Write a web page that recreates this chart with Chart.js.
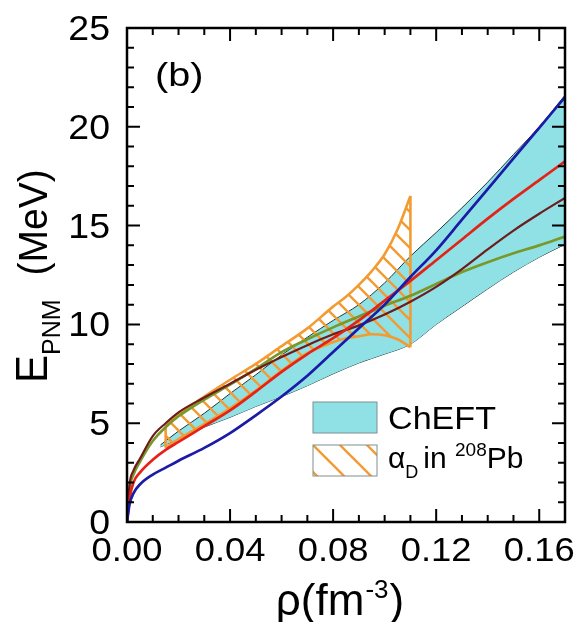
<!DOCTYPE html>
<html>
<head>
<meta charset="utf-8">
<script src="https://cdn.jsdelivr.net/npm/chart.js@4.4.1/dist/chart.umd.min.js"></script>
<style>
  body { margin: 0; background: #fff; }
  #wrap { width: 581px; height: 622px; }
</style>
</head>
<body>
<div id="wrap"><canvas id="chartEpnm"></canvas></div>
<script>
// density grid (fm^-3) for the four EOS curves
const rho = [0, 0.001, 0.0025, 0.005, 0.01, 0.015, 0.02, 0.03, 0.04, 0.05, 0.06, 0.07, 0.08, 0.09, 0.10, 0.11, 0.12, 0.13, 0.14, 0.15, 0.16, 0.17];
const eBlue  = [0, 0.9, 1.45, 1.9, 2.4, 2.75, 3.1, 3.75, 4.5, 5.4, 6.35, 7.4, 8.6, 9.8, 11.0, 12.4, 13.75, 15.3, 16.85, 18.4, 19.95, 21.5];
const eRed   = [0, 1.2, 2.0, 2.5, 3.15, 3.65, 4.05, 4.85, 5.65, 6.6, 7.6, 8.5, 9.3, 10.2, 11.2, 12.2, 13.25, 14.3, 15.35, 16.35, 17.3, 18.25];
const eBrown = [0, 1.9, 2.6, 3.2, 4.35, 5.0, 5.55, 6.3, 7.0, 7.7, 8.35, 8.95, 9.5, 9.95, 10.5, 11.15, 11.9, 12.8, 13.8, 14.75, 15.6, 16.4];
const eGreen = [0, 1.7, 2.4, 3.05, 4.1, 4.8, 5.35, 6.2, 6.95, 7.75, 8.6, 9.25, 9.85, 10.4, 10.95, 11.45, 12.05, 12.65, 13.15, 13.6, 14.0, 14.45];

// ChEFT band
const chRho  = [0.013, 0.02, 0.03, 0.04, 0.05, 0.06, 0.07, 0.08, 0.09, 0.10, 0.11, 0.12, 0.13, 0.14, 0.15, 0.16, 0.17];
const chLow  = [3.8, 4.2, 4.8, 5.3, 5.85, 6.35, 6.9, 7.5, 8.05, 8.5, 9.0, 10.0, 10.9, 11.8, 12.65, 13.4, 14.05];
const chHigh = [3.9, 4.6, 5.5, 6.5, 7.45, 8.45, 9.35, 10.2, 11.0, 12.1, 13.45, 14.65, 15.9, 17.2, 18.6, 20.0, 21.6];

// alpha_D in 208Pb constraint
const aRho  = [0.015, 0.02, 0.03, 0.04, 0.05, 0.06, 0.07, 0.08, 0.085, 0.09, 0.095, 0.10, 0.105, 0.11];
const aHigh = [4.85, 5.45, 6.35, 7.2, 8.0, 8.9, 9.8, 10.9, 11.4, 12.0, 12.7, 13.55, 14.8, 16.5];
const aLow  = [3.75, 4.2, 4.95, 5.75, 6.65, 7.65, 8.55, 9.1, 9.3, 9.4, 9.5, 9.45, 9.25, 8.85];

const xTicks = [0, 0.04, 0.08, 0.12, 0.16];
const xTickLabels = ['0.00', '0.04', '0.08', '0.12', '0.16'];
const yTicks = [0, 5, 10, 15, 20, 25];
const yTickLabels = ['0', '5', '10', '15', '20', '25'];

const FONT = "'Liberation Sans', Arial, sans-serif";
const CYAN = '#8fe1e6';
const ORANGE = '#f39b32';
const SX = 1.07; // text is set a little wide

const pts = (xs, ys) => xs.map((v, i) => ({ x: v, y: ys[i] }));

function hatch(size, width) {
  const c = document.createElement('canvas');
  c.width = size; c.height = size;
  const g = c.getContext('2d');
  g.strokeStyle = ORANGE;
  g.lineWidth = width;
  for (let k = -1; k <= 1; k++) {
    g.beginPath();
    g.moveTo(-1, -1 + k * size);
    g.lineTo(size + 1, size + 1 + k * size);
    g.stroke();
  }
  return g.createPattern(c, 'repeat');
}

const plotHatch = hatch(18, 2.4);
const legendHatch = hatch(27, 2.4);

function curve(label, ys, color, width, order) {
  return {
    label, data: pts(rho, ys), borderColor: color, borderWidth: width,
    pointRadius: 0, fill: false, cubicInterpolationMode: 'monotone', order
  };
}

// draws text squeezed/stretched horizontally, returns drawn width
function wideText(ctx, str, x, y, size, sx, align) {
  ctx.save();
  ctx.font = size + 'px ' + FONT;
  ctx.textAlign = align || 'left';
  ctx.translate(x, y);
  ctx.scale(sx, 1);
  ctx.fillText(str, 0, 0);
  const w = ctx.measureText(str).width * sx;
  ctx.restore();
  return w;
}

// frame with inward ticks, tick labels, panel tag, axis titles and legend
const decorations = {
  id: 'decorations',
  afterDraw(chart) {
    const { ctx, chartArea: a, scales: { x, y } } = chart;
    ctx.save();
    ctx.strokeStyle = '#000';
    ctx.lineWidth = 2;
    ctx.beginPath();
    for (let i = 0; i <= 17; i++) {
      const px = x.getPixelForValue(i * 0.01);
      const len = i % 4 === 0 ? 13 : 7;
      ctx.moveTo(px, a.bottom); ctx.lineTo(px, a.bottom - len);
      ctx.moveTo(px, a.top); ctx.lineTo(px, a.top + len);
    }
    for (let j = 0; j <= 25; j++) {
      const py = y.getPixelForValue(j);
      const len = j % 5 === 0 ? 13 : 7;
      ctx.moveTo(a.left, py); ctx.lineTo(a.left + len, py);
      ctx.moveTo(a.right, py); ctx.lineTo(a.right - len, py);
    }
    ctx.stroke();
    ctx.lineWidth = 2.5;
    ctx.strokeRect(a.left, a.top, a.right - a.left, a.bottom - a.top);

    ctx.fillStyle = '#000';
    ctx.textBaseline = 'alphabetic';

    xTicks.forEach((v, i) => wideText(ctx, xTickLabels[i], x.getPixelForValue(v), a.bottom + 39, 34, SX, 'center'));
    yTicks.forEach((v, i) => wideText(ctx, yTickLabels[i], a.left - 17, y.getPixelForValue(v) + 12, 35, SX, 'right'));

    // panel tag
    wideText(ctx, '(b)', 155, 86, 33, 1.2);

    // y title: E_PNM (MeV)
    ctx.save();
    ctx.translate(47, 383);
    ctx.rotate(-Math.PI / 2);
    ctx.scale(1, 1.05);
    ctx.textAlign = 'left';
    ctx.font = '42px ' + FONT;
    ctx.fillText('E', 0, 0);
    const wE = ctx.measureText('E').width;
    ctx.font = '25px ' + FONT;
    ctx.fillText('PNM', wE, 12);
    const wSub = ctx.measureText('PNM').width;
    ctx.font = '39px ' + FONT;
    ctx.fillText('(MeV)', wE + wSub + 24, 0);
    ctx.restore();

    // x title: rho(fm^-3)
    ctx.textAlign = 'left';
    ctx.font = '44px ' + FONT;
    const w1 = ctx.measureText('\u03c1(fm').width;
    const w3 = ctx.measureText(')').width;
    ctx.font = '26px ' + FONT;
    const w2 = ctx.measureText('-3').width;
    const tx = 339 - (w1 + w2 + w3) / 2;
    const ty = 615;
    ctx.font = '44px ' + FONT;
    ctx.fillText('\u03c1(fm', tx, ty);
    ctx.font = '26px ' + FONT;
    ctx.fillText('-3', tx + w1 + 1, ty - 17);
    ctx.font = '44px ' + FONT;
    ctx.fillText(')', tx + w1 + w2 + 2, ty);

    // legend
    const bx = 313, bw = 64, bh = 31;
    ctx.fillStyle = CYAN;
    ctx.fillRect(bx, 402, bw, bh);
    ctx.strokeStyle = '#7f8f90';
    ctx.lineWidth = 1;
    ctx.strokeRect(bx, 402, bw, bh);
    ctx.save();
    ctx.beginPath();
    ctx.rect(bx, 445, bw, bh);
    ctx.clip();
    ctx.translate(bx, 445);
    ctx.fillStyle = legendHatch;
    ctx.fillRect(0, 0, bw, bh);
    ctx.restore();
    ctx.strokeRect(bx, 445, bw, bh);

    ctx.fillStyle = '#000';
    wideText(ctx, 'ChEFT', 388, 429, 31, 1.1);
    let lx = 388;
    lx += wideText(ctx, '\u03b1', lx, 468, 30, 1.0);
    lx += wideText(ctx, 'D', lx, 478, 18, 1.0) + 5;
    lx += wideText(ctx, 'in ', lx, 468, 30, 1.0);
    lx += wideText(ctx, '208', lx, 456, 19, 1.0);
    wideText(ctx, 'Pb', lx, 468, 30, 1.0);
    ctx.restore();
  }
};

const zeroPad = s => { s.paddingLeft = s.paddingRight = s.paddingTop = s.paddingBottom = 0; };

new Chart(document.getElementById('chartEpnm'), {
  type: 'line',
  data: {
    datasets: [
      curve('blue', eBlue, '#1b1ba6', 2.7, 1),
      curve('red', eRed, '#e52218', 2.7, 2),
      curve('brown', eBrown, '#6e1c1c', 2.2, 3),
      curve('green', eGreen, '#78982a', 2.7, 4),
      { label: 'aLeft', data: [{ x: aRho[0], y: aLow[0] }, { x: aRho[0], y: aHigh[0] }],
        borderColor: ORANGE, borderWidth: 2.6, pointRadius: 0, fill: false, order: 5 },
      { label: 'aRight', data: [{ x: aRho[aRho.length - 1], y: aLow[aLow.length - 1] }, { x: aRho[aRho.length - 1], y: aHigh[aHigh.length - 1] }],
        borderColor: ORANGE, borderWidth: 2.6, pointRadius: 0, fill: false, order: 5 },
      { label: 'aHigh', data: pts(aRho, aHigh), borderColor: ORANGE, borderWidth: 2.6,
        backgroundColor: plotHatch, fill: 7, pointRadius: 0, cubicInterpolationMode: 'monotone', order: 6 },
      { label: 'aLow', data: pts(aRho, aLow), borderColor: ORANGE, borderWidth: 2.6,
        pointRadius: 0, fill: false, cubicInterpolationMode: 'monotone', order: 7 },
      { label: 'chHigh', data: pts(chRho, chHigh), borderColor: '#1f3838', borderWidth: 1,
        backgroundColor: CYAN, fill: 9, pointRadius: 0, cubicInterpolationMode: 'monotone', order: 8 },
      { label: 'chLow', data: pts(chRho, chLow), borderColor: '#1f3838', borderWidth: 1,
        pointRadius: 0, fill: false, cubicInterpolationMode: 'monotone', order: 9 }
    ]
  },
  options: {
    responsive: true,
    maintainAspectRatio: false,
    animation: false,
    layout: { padding: { left: 0, top: 28, right: 16, bottom: 0 } },
    plugins: { legend: { display: false }, tooltip: { enabled: false } },
    scales: {
      x: {
        type: 'linear', min: 0, max: 0.17,
        grid: { display: false, drawTicks: false },
        border: { display: false },
        ticks: { display: false },
        afterBuildTicks: s => { s.ticks = xTicks.map(v => ({ value: v })); },
        afterFit: s => { s.height = 100; zeroPad(s); }
      },
      y: {
        type: 'linear', min: 0, max: 25,
        grid: { display: false, drawTicks: false },
        border: { display: false },
        ticks: { display: false },
        afterBuildTicks: s => { s.ticks = yTicks.map(v => ({ value: v })); },
        afterFit: s => { s.width = 127; zeroPad(s); }
      }
    }
  },
  plugins: [decorations]
});
</script>
</body>
</html>
